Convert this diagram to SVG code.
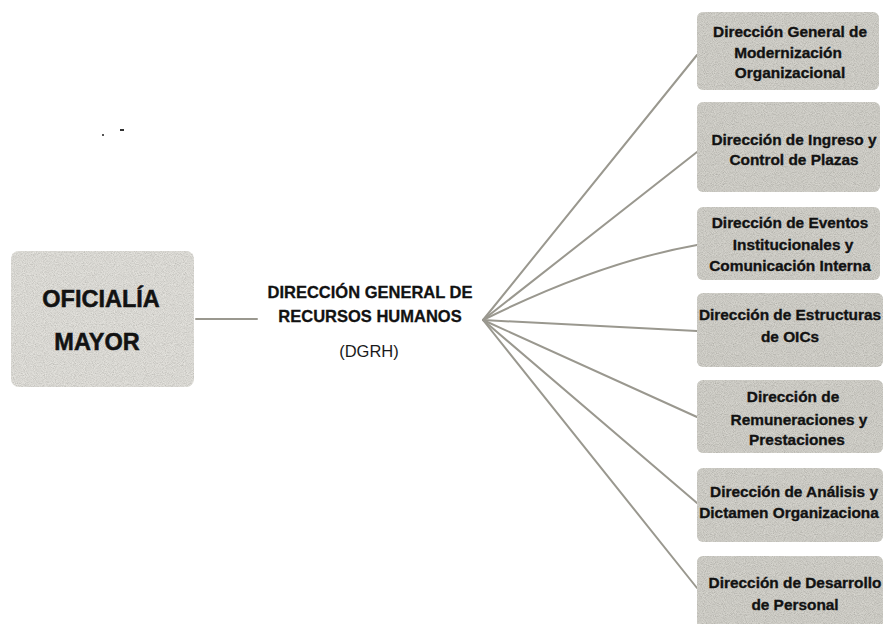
<svg xmlns="http://www.w3.org/2000/svg" width="883" height="624" viewBox="0 0 883 624">
  <style>
    .box-l { fill: #e8e6de; }
    .box-r { fill: #d2d0c6; }
    .grain { filter: url(#grain); opacity: 0.36; }
    .t-big { font-family: "Liberation Sans", Arial, sans-serif; font-weight: bold; font-size: 23.5px; fill: #121212; stroke: #121212; stroke-width: 0.5; text-anchor: middle; }
    .t-mid { font-family: "Liberation Sans", Arial, sans-serif; font-weight: bold; font-size: 16.5px; fill: #121212; stroke: #121212; stroke-width: 0.3; text-anchor: middle; }
    .t-reg { font-family: "Liberation Sans", Arial, sans-serif; font-size: 16.5px; fill: #1a1a1a; text-anchor: middle; }
    .t-box { font-family: "Liberation Sans", Arial, sans-serif; font-weight: bold; font-size: 15.4px; fill: #121212; stroke: #121212; stroke-width: 0.35; text-anchor: middle; }
    .conn { stroke: #9a988f; stroke-width: 2; fill: none; stroke-linecap: round; }
  </style>
  <defs>
    <filter id="grain" x="0" y="0" width="100%" height="100%">
      <feTurbulence type="fractalNoise" baseFrequency="1.1" numOctaves="1" seed="7" result="n"/>
      <feColorMatrix in="n" type="matrix" values="1 0 0 0 0  1 0 0 0 0  1 0 0 0 0  0 0 0 0 1" result="g"/>
      <feComposite in="g" in2="SourceGraphic" operator="in"/>
    </filter>
  </defs>
  <rect width="883" height="624" fill="#ffffff"/>

  <!-- scan specks -->
  <rect x="102" y="134" width="2" height="2" fill="#555"/>
  <rect x="120" y="129" width="4" height="2" fill="#333"/>

  <g id="connectors">
    <line class="conn" x1="196" y1="319" x2="257" y2="319"/>
    <line class="conn" x1="483" y1="320" x2="697" y2="55"/>
    <line class="conn" x1="483" y1="320" x2="697" y2="152"/>
    <path class="conn" d="M483 320 Q 600 262 697 245"/>
    <line class="conn" x1="483" y1="320" x2="697" y2="331"/>
    <line class="conn" x1="483" y1="320" x2="697" y2="417"/>
    <line class="conn" x1="483" y1="320" x2="697" y2="503"/>
    <line class="conn" x1="483" y1="320" x2="697" y2="588"/>
  </g>

  <g id="oficialia">
    <rect class="box-l" x="11" y="251" width="183" height="136" rx="8"/>
    <rect class="grain" x="11" y="251" width="183" height="136" rx="8"/>
    <text class="t-big" x="101" y="307">OFICIALÍA</text>
    <text class="t-big" x="97" y="350">MAYOR</text>
  </g>

  <g id="dgrh">
    <text class="t-mid" x="370" y="298">DIRECCIÓN GENERAL DE</text>
    <text class="t-mid" x="370" y="322">RECURSOS HUMANOS</text>
    <text class="t-reg" x="369" y="357">(DGRH)</text>
  </g>

  <g id="modernizacion">
    <rect class="box-r" x="697" y="12" width="182" height="78" rx="6"/>
    <rect class="grain" x="697" y="12" width="182" height="78" rx="6"/>
    <text class="t-box" x="790" y="37">Dirección General de</text>
    <text class="t-box" x="788" y="58">Modernización</text>
    <text class="t-box" x="790" y="78">Organizacional</text>
  </g>

  <g id="ingreso">
    <rect class="box-r" x="697" y="102" width="183" height="90" rx="6"/>
    <rect class="grain" x="697" y="102" width="183" height="90" rx="6"/>
    <text class="t-box" x="794" y="145">Dirección de Ingreso y</text>
    <text class="t-box" x="794" y="165">Control de Plazas</text>
  </g>

  <g id="eventos">
    <rect class="box-r" x="697" y="207" width="183" height="73" rx="6"/>
    <rect class="grain" x="697" y="207" width="183" height="73" rx="6"/>
    <text class="t-box" x="790" y="228">Dirección de Eventos</text>
    <text class="t-box" x="793" y="250">Institucionales y</text>
    <text class="t-box" x="790" y="271">Comunicación Interna</text>
  </g>

  <g id="estructuras">
    <rect class="box-r" x="697" y="293" width="186" height="74" rx="6"/>
    <rect class="grain" x="697" y="293" width="186" height="74" rx="6"/>
    <text class="t-box" x="790" y="320">Dirección de Estructuras</text>
    <text class="t-box" x="790" y="342">de OICs</text>
  </g>

  <g id="remuneraciones">
    <rect class="box-r" x="697" y="380" width="186" height="73" rx="6"/>
    <rect class="grain" x="697" y="380" width="186" height="73" rx="6"/>
    <text class="t-box" x="793" y="402">Dirección de</text>
    <text class="t-box" x="799" y="425">Remuneraciones y</text>
    <text class="t-box" x="797" y="445">Prestaciones</text>
  </g>

  <g id="analisis">
    <rect class="box-r" x="697" y="468" width="186" height="74" rx="6"/>
    <rect class="grain" x="697" y="468" width="186" height="74" rx="6"/>
    <text class="t-box" x="794" y="497">Dirección de Análisis y</text>
    <text class="t-box" x="789" y="518">Dictamen Organizaciona</text>
  </g>

  <g id="desarrollo">
    <rect class="box-r" x="697" y="556" width="186" height="75" rx="6"/>
    <rect class="grain" x="697" y="556" width="186" height="75" rx="6"/>
    <text class="t-box" x="795" y="588">Dirección de Desarrollo</text>
    <text class="t-box" x="795" y="610">de Personal</text>
  </g>
</svg>
